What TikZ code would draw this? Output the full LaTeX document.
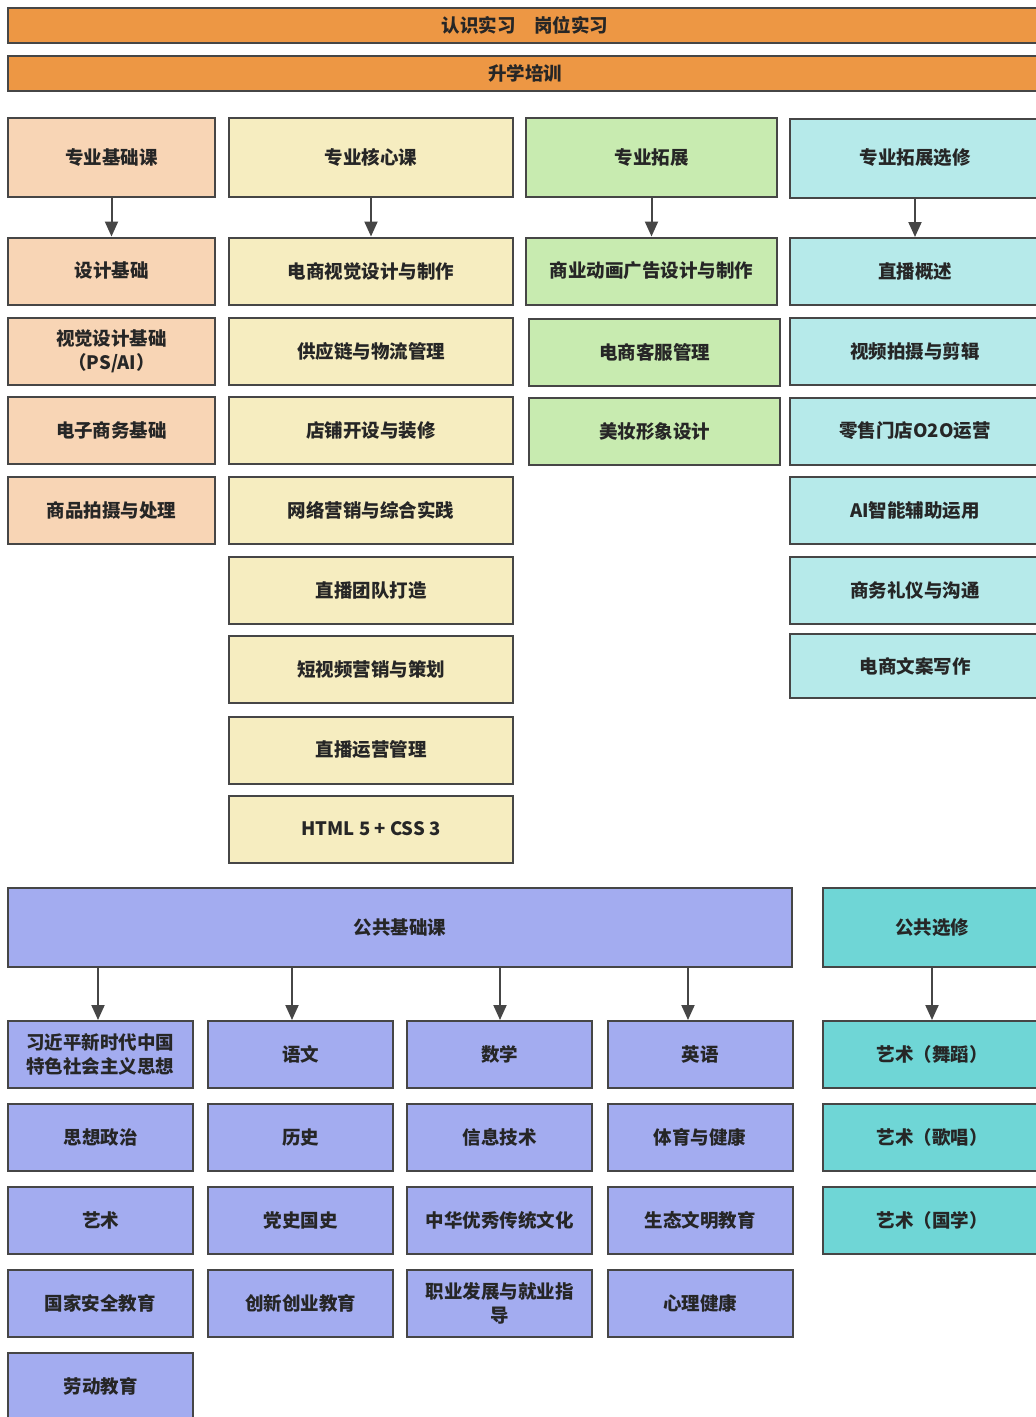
\documentclass[tikz,border=0pt]{standalone}
\usepackage{fontspec}
\setmainfont{Noto Sans CJK SC}
\usetikzlibrary{arrows.meta}
\definecolor{barorange}{RGB}{237,151,68}
\definecolor{peach}{RGB}{248,213,181}
\definecolor{cream}{RGB}{246,237,192}
\definecolor{leaf}{RGB}{200,235,176}
\definecolor{ice}{RGB}{182,234,234}
\definecolor{lilac}{RGB}{163,172,240}
\definecolor{teal2}{RGB}{111,214,214}
\definecolor{boxline}{RGB}{70,70,70}

\begin{document}
\begin{tikzpicture}[x=1pt,y=-1pt,
  box/.style={draw=boxline,line width=2pt,minimum height=67pt,inner sep=0pt,
    align=center,text=black!85,font=\fontsize{18.5}{24}\selectfont\bfseries},
  head/.style={box,minimum height=79pt},
  bar/.style={box,fill=barorange,minimum width=1034pt,minimum height=35pt},
  cola/.style={fill=peach,minimum width=207pt},
  colb/.style={fill=cream,minimum width=284pt},
  colc/.style={fill=leaf,minimum width=251pt},
  cold/.style={fill=ice,minimum width=250pt},
  pub/.style={box,fill=lilac,minimum width=185pt},
  elec/.style={box,fill=teal2,minimum width=218pt},
  link/.style={draw=boxline,line width=2pt,-{Triangle[width=13pt,length=15pt]}}]
\clip (0,0) rectangle (1036,1417);
\fill[white] (0,0) rectangle (1036,1417);

% internships and training
\node[bar] (intern) at (525,25.5) {认识实习\quad 岗位实习};
\node[bar] (train) at (525,73) {升学培训};

% professional basics
\node[head,cola] (basic) at (111.5,157.5) {专业基础课};
\node[box,cola] (basic1) at (111.5,271) {设计基础};
\node[box,cola] (basic2) at (111.5,351.5) {视觉设计基础\\（PS/AI）};
\node[box,cola] (basic3) at (111.5,430.5) {电子商务基础};
\node[box,cola] (basic4) at (111.5,510.5) {商品拍摄与处理};

% core courses
\node[head,colb] (core) at (371,157.5) {专业核心课};
\node[box,colb] (core1) at (371,271) {电商视觉设计与制作};
\node[box,colb] (core2) at (371,351.5) {供应链与物流管理};
\node[box,colb] (core3) at (371,430.5) {店铺开设与装修};
\node[box,colb] (core4) at (371,510.5) {网络营销与综合实践};
\node[box,colb] (core5) at (371,590) {直播团队打造};
\node[box,colb] (core6) at (371,669.5) {短视频营销与策划};
\node[box,colb] (core7) at (371,750) {直播运营管理};
\node[box,colb] (core8) at (371,829) {HTML 5 + CSS 3};

% extension
\node[head,colc] (ext) at (651.5,157.5) {专业拓展};
\node[box,colc] (ext1) at (651.5,271) {商业动画广告设计与制作};
\node[box,colc] (ext2) at (654.5,352) {电商客服管理};
\node[box,colc] (ext3) at (654.5,431.5) {美妆形象设计};

% extension electives
\node[head,cold] (opt) at (915,158) {专业拓展选修};
\node[box,cold] (opt1) at (915,271.5) {直播概述};
\node[box,cold] (opt2) at (915,351) {视频拍摄与剪辑};
\node[box,cold] (opt3) at (915,431) {零售门店O2O运营};
\node[box,cold] (opt4) at (915,510.5) {AI智能辅助运用};
\node[box,cold] (opt5) at (915,590.5) {商务礼仪与沟通};
\node[box,cold,minimum height=64pt] (opt6) at (915,666) {电商文案写作};

\draw[link] (basic) -- (basic1);
\draw[link] (core) -- (core1);
\draw[link] (ext) -- (ext1);
\draw[link] (opt) -- (opt1);

% public courses
\node[head,fill=lilac,minimum width=784pt] (pub) at (400,927.5) {公共基础课};
\node[head,fill=teal2,minimum width=218pt] (pubopt) at (932,927.5) {公共选修};

\node[pub] (p11) at (100.5,1054.5) {习近平新时代中国\\特色社会主义思想};
\node[pub] (p12) at (300.5,1054.5) {语文};
\node[pub] (p13) at (499.5,1054.5) {数学};
\node[pub] (p14) at (700,1054.5) {英语};
\node[pub] (p21) at (100.5,1137.5) {思想政治};
\node[pub] (p22) at (300.5,1137.5) {历史};
\node[pub] (p23) at (499.5,1137.5) {信息技术};
\node[pub] (p24) at (700,1137.5) {体育与健康};
\node[pub] (p31) at (100.5,1220.5) {艺术};
\node[pub] (p32) at (300.5,1220.5) {党史国史};
\node[pub] (p33) at (499.5,1220.5) {中华优秀传统文化};
\node[pub] (p34) at (700,1220.5) {生态文明教育};
\node[pub] (p41) at (100.5,1303.5) {国家安全教育};
\node[pub] (p42) at (300.5,1303.5) {创新创业教育};
\node[pub] (p43) at (499.5,1303.5) {职业发展与就业指\\导};
\node[pub] (p44) at (700,1303.5) {心理健康};
\node[pub] (p51) at (100.5,1386) {劳动教育};

\node[elec] (e1) at (932,1054.5) {艺术（舞蹈）};
\node[elec] (e2) at (932,1137.5) {艺术（歌唱）};
\node[elec] (e3) at (932,1220.5) {艺术（国学）};

\draw[link] (pub.south -| 98,0) -- (p11.north -| 98,0);
\draw[link] (pub.south -| 292,0) -- (p12.north -| 292,0);
\draw[link] (pub.south -| 500,0) -- (p13.north -| 500,0);
\draw[link] (pub.south -| 688,0) -- (p14.north -| 688,0);
\draw[link] (pubopt) -- (e1);
\end{tikzpicture}
\end{document}
